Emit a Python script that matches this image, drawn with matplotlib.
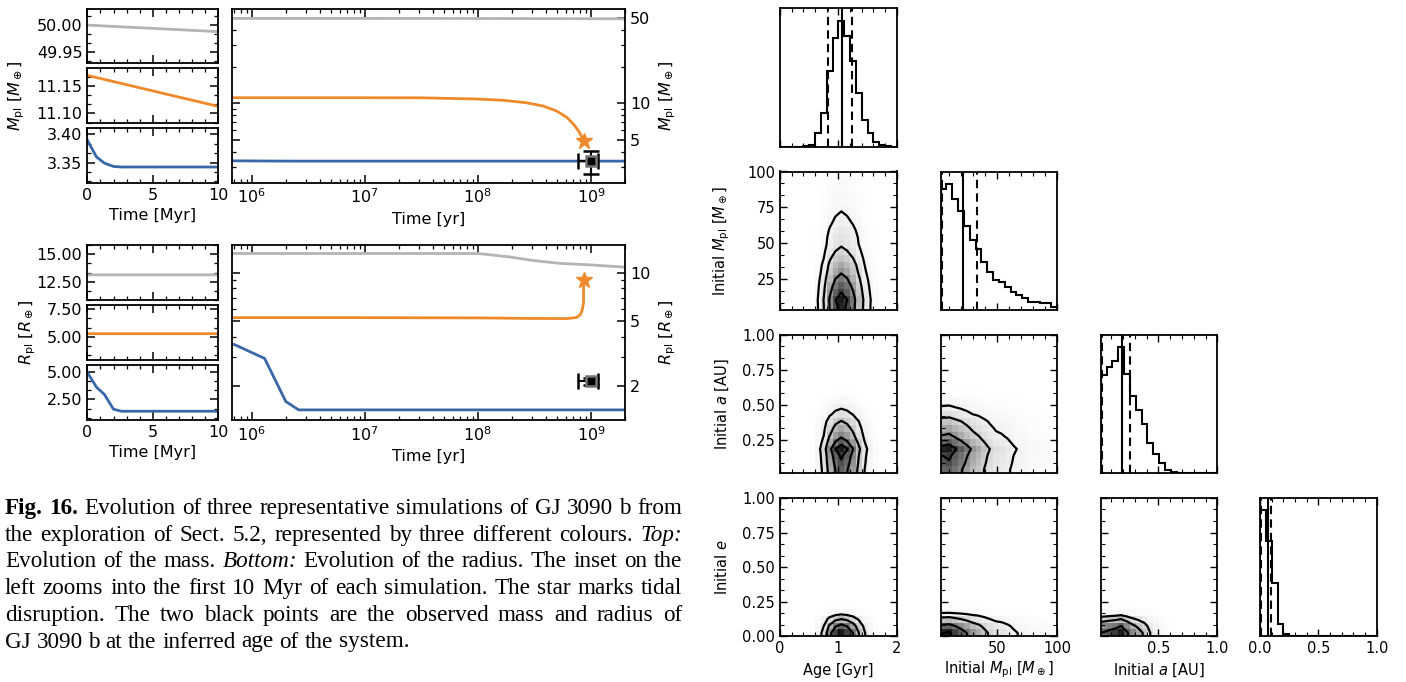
import numpy as np
import matplotlib
matplotlib.use("Agg")
import matplotlib.pyplot as plt
from matplotlib.ticker import (MultipleLocator, AutoMinorLocator, FormatStrFormatter,
                               FixedLocator, LogLocator, NullFormatter)

# ---------------------------------------------------------------- tracks
# Three representative simulations (time in yr, mass in M_earth, radius in R_earth)
t_gray = [0.0, 1.0e7, 1.0e8, 1.9e8, 3.0e8, 5.3e8, 1.0e9, 2.0e9]
m_gray = [50.0, 49.988, 49.9, 49.85, 49.8, 49.75, 49.7, 49.6]
r_gray = [13.12, 13.12, 13.12, 12.5, 11.9, 11.4, 11.15, 10.8]

t_orange = [0.0, 1.0e7, 3.07e7, 9.8e7, 1.68e8, 2.69e8, 3.78e8, 4.97e8, 6.1e8,
            6.98e8, 7.73e8, 8.27e8, 8.6e8]
m_orange = [11.17, 11.113, 11.1, 10.85, 10.58, 10.1, 9.5, 8.64, 7.67,
            6.76, 5.96, 5.32, 4.93]

t_orange_r = [0.0, 1.0e7, 1.0e8, 3.0e8, 6.1e8, 7.5e8, 8.1e8, 8.4e8, 8.6e8, 8.6e8]
r_orange = [5.27, 5.27, 5.25, 5.21, 5.2, 5.28, 5.53, 5.92, 6.6, 9.0]

t_blue = [0.0, 7.0e5, 1.3e6, 2.0e6, 2.6e6, 1.0e7, 2.0e9]
m_blue = [3.39, 3.36, 3.349, 3.343, 3.342, 3.342, 3.342]
r_blue = [4.95, 3.6, 2.95, 1.6, 1.42, 1.42, 1.42]

# Observed planet at the inferred age
age_obs, age_err = 1.0e9, (2.3e8, 1.6e8)
mass_obs, mass_err = 3.34, 0.72
rad_obs, rad_err = 2.13, 0.11

# ---------------------------------------------------------------- posterior
age_counts = [0, 0, 0, 0, 2, 5, 40, 100, 227, 325, 375, 330, 255, 160, 80, 40, 15, 5, 3, 0]
mpl_counts = [363, 377, 333, 295, 253, 210, 183, 145, 113, 90, 83, 70, 55, 45, 37, 25, 25, 20, 20, 10]
a_counts = [295, 320, 340, 380, 300, 233, 190, 148, 90, 57, 30, 10, 5, 0, 0, 0, 0, 0, 0, 0]
e_counts = [367, 278, 155, 35, 7, 0, 0, 0, 0, 0, 0, 0, 0, 0, 0, 0, 0, 0, 0, 0]

age_q = [0.83, 1.07, 1.24]
mpl_q = [4.2, 22.3, 33.5]
a_q = [0.02, 0.19, 0.255]
e_q = [0.008, 0.065, 0.095]

param_ranges = [(0.0, 2.0), (3.34, 100.0), (0.01, 1.0), (0.0, 1.0)]
param_labels = ["Age [Gyr]", r"Initial $M_{\rm pl}$ [$M_\oplus$]", r"Initial $a$ [AU]", r"Initial $e$"]

caption_lines = [
    "**Fig. 16.** Evolution of three representative simulations of GJ 3090 b from",
    "the exploration of Sect. 5.2, represented by three different colours. *Top:*",
    "Evolution of the mass. *Bottom:* Evolution of the radius. The inset on the",
    "left zooms into the first 10 Myr of each simulation. The star marks tidal",
    "disruption. The two black points are the observed mass and radius of",
    "GJ 3090 b at the inferred age of the system.",
]

# ---------------------------------------------------------------- style
GRAY, ORANGE, BLUE = "#b4b4b4", "#ee8a2b", "#3a67a7"
plt.rcParams.update({
    "font.family": "DejaVu Sans",
    "mathtext.fontset": "dejavusans",
    "axes.linewidth": 1.3,
    "xtick.direction": "in", "ytick.direction": "in",
    "xtick.top": True, "ytick.right": True,
})

W, H = 1406, 682
fig = plt.figure(figsize=(W / 100, H / 100), dpi=100)


def add_box(x0, y0, x1, y1):
    return fig.add_axes([x0 / W, 1 - y1 / H, (x1 - x0) / W, (y1 - y0) / H])


def ticks(ax, size=11.5, major=5.5, minor=3.2):
    ax.tick_params(which="both", direction="in", top=True, right=True, labelsize=size)
    ax.tick_params(which="major", length=major, width=1.1)
    ax.tick_params(which="minor", length=minor, width=0.9)


LW = 2.0

# ---------------------------------------------------------------- left: first 10 Myr
def small_panels(boxes, series, ylims, ystep):
    for k, (box, (t, y, col), lim) in enumerate(zip(boxes, series, ylims)):
        ax = add_box(*box)
        ax.plot(np.asarray(t) / 1e6, y, color=col, lw=LW)
        ax.set_xlim(0, 10)
        ax.set_ylim(*lim)
        ax.xaxis.set_major_locator(MultipleLocator(5))
        ax.xaxis.set_minor_locator(AutoMinorLocator(5))
        ax.yaxis.set_major_locator(MultipleLocator(ystep))
        ax.yaxis.set_minor_locator(AutoMinorLocator(3))
        ax.yaxis.set_major_formatter(FormatStrFormatter("%.2f"))
        ticks(ax)
        if k < 2:
            ax.tick_params(labelbottom=False)
        else:
            ax.set_xlabel("Time [Myr]", fontsize=11.5, labelpad=4)


small_panels(
    [(87.3, 9.3, 218.3, 63.3), (87.3, 68.3, 218.3, 123.3), (87.3, 128.3, 218.3, 182.7)],
    [(t_gray, m_gray, GRAY), (t_orange, m_orange, ORANGE), (t_blue, m_blue, BLUE)],
    [(49.930, 50.029), (11.082, 11.183), (3.314, 3.411)], 0.05)
small_panels(
    [(87.3, 245, 218.3, 300), (87.3, 305, 218.3, 360), (87.3, 365, 218.3, 420)],
    [(t_gray, r_gray, GRAY), (t_orange_r, r_orange, ORANGE), (t_blue, r_blue, BLUE)],
    [(10.82, 15.85), (2.87, 7.89), (0.625, 5.61)], 2.5)

fig.text(17 / W, 1 - 96 / H, r"$M_{\rm pl}$ [$M_\oplus$]", rotation=90,
         ha="center", va="center", fontsize=11.5)
fig.text(28 / W, 1 - 332 / H, r"$R_{\rm pl}$ [$R_\oplus$]", rotation=90,
         ha="center", va="center", fontsize=11.5)

# ---------------------------------------------------------------- right: full evolution
def big_panel(box, tracks, ylim, yticks, obs, ylabel):
    ax = add_box(*box)
    for t, y, col in tracks:
        ax.plot(t, y, color=col, lw=LW)
    ax.set_xscale("log")
    ax.set_yscale("log")
    ax.set_xlim(6.65e5, 2.0e9)
    ax.set_ylim(*ylim)
    ax.yaxis.set_major_locator(FixedLocator(yticks))
    ax.yaxis.set_major_formatter(FormatStrFormatter("%g"))
    ax.yaxis.set_minor_locator(LogLocator(base=10, subs=np.arange(2, 10)))
    ax.yaxis.set_minor_formatter(NullFormatter())
    ax.xaxis.set_major_locator(LogLocator(base=10, numticks=20))
    ax.xaxis.set_minor_locator(LogLocator(base=10, subs=np.arange(2, 10), numticks=20))
    ax.xaxis.set_minor_formatter(NullFormatter())
    ticks(ax)
    ax.tick_params(axis="y", labelleft=False, labelright=True)
    ax.set_xlabel("Time [yr]", fontsize=11.5, labelpad=4)
    ax.yaxis.set_label_position("right")
    ax.set_ylabel(ylabel, fontsize=11.5, labelpad=5)
    # tidal disruption
    t_o, y_o = tracks[1][0], tracks[1][1]
    ax.plot(t_o[-1], y_o[-1], marker="*", ms=12, color=ORANGE, mec=ORANGE, zorder=4)
    # observed point
    val, err = obs
    ax.errorbar([age_obs], [val], xerr=[[age_err[0]], [age_err[1]]], yerr=[[err], [err]],
                fmt="s", color="k", mfc="k", mec="0.45", ms=7.5, mew=1.8,
                capsize=6, elinewidth=1.5, capthick=1.5, zorder=5)


big_panel((231.7, 9.3, 625, 182.7),
          [(t_gray, m_gray, GRAY), (t_orange, m_orange, ORANGE), (t_blue, m_blue, BLUE)],
          (2.22, 59.4), [5, 10, 50], (mass_obs, mass_err), r"$M_{\rm pl}$ [$M_\oplus$]")
big_panel((231.7, 245, 625, 420),
          [(t_gray, r_gray, GRAY), (t_orange_r, r_orange, ORANGE), (t_blue, r_blue, BLUE)],
          (1.23, 14.8), [2, 5, 10], (rad_obs, rad_err), r"$R_{\rm pl}$ [$R_\oplus$]")

# ---------------------------------------------------------------- corner plot
hists = [age_counts, mpl_counts, a_counts, e_counts]
quants = [age_q, mpl_q, a_q, e_q]
x_major = [1.0, 50.0, 0.5, 0.5]
y_fmt = [None, "%g", "%.2f", "%.2f"]
y_major = [None, 25.0, 0.25, 0.25]
col_x0 = [780.0, 940.5, 1100.7, 1260.0]
row_y0 = [8.3, 171.5, 334.7, 497.9]
CW, CH = 116.7, 138.5
sigma_levels = 1.0 - np.exp(-0.5 * np.arange(0.5, 2.1, 0.5) ** 2)


def density_levels(Hm):
    flat = np.sort(Hm.ravel())[::-1]
    cum = np.cumsum(flat)
    cum /= cum[-1]
    V = np.empty(len(sigma_levels))
    for i, v0 in enumerate(sigma_levels):
        sel = flat[cum <= v0]
        V[i] = sel[-1] if len(sel) else flat[0]
    V.sort()
    while np.any(np.diff(V) == 0):
        j = np.where(np.diff(V) == 0)[0][0]
        V[j] *= 1 - 1e-4
    return V


def padded(Hm, xe, ye):
    xc = 0.5 * (xe[1:] + xe[:-1])
    yc = 0.5 * (ye[1:] + ye[:-1])
    H2 = Hm.min() + np.zeros((Hm.shape[0] + 4, Hm.shape[1] + 4))
    H2[2:-2, 2:-2] = Hm
    H2[2:-2, 1] = Hm[:, 0]
    H2[2:-2, -2] = Hm[:, -1]
    H2[1, 2:-2] = Hm[0]
    H2[-2, 2:-2] = Hm[-1]
    H2[1, 1] = Hm[0, 0]
    H2[1, -2] = Hm[0, -1]
    H2[-2, 1] = Hm[-1, 0]
    H2[-2, -2] = Hm[-1, -1]
    dx, dy = np.diff(xc[:2])[0], np.diff(yc[:2])[0]
    X2 = np.concatenate([xc[0] + np.array([-2, -1]) * dx, xc, xc[-1] + np.array([1, 2]) * dx])
    Y2 = np.concatenate([yc[0] + np.array([-2, -1]) * dy, yc, yc[-1] + np.array([1, 2]) * dy])
    return X2, Y2, H2


for r in range(4):
    for c in range(r + 1):
        x0, y0 = col_x0[c], row_y0[r]
        ax = add_box(x0, y0, x0 + CW, y0 + CH)
        lo, hi = param_ranges[c]
        xe = np.linspace(lo, hi, 21)
        if r == c:
            cnt = np.asarray(hists[c], float)
            ax.stairs(cnt, xe, color="k", lw=1.5)
            ax.set_ylim(0, 1.1 * cnt.max())
            q = quants[c]
            ax.axvline(q[0], color="k", ls="--", lw=1.5, dashes=(4, 2.5))
            ax.axvline(q[1], color="k", lw=1.5)
            ax.axvline(q[2], color="k", ls="--", lw=1.5, dashes=(4, 2.5))
            ax.set_yticks([])
        else:
            ylo, yhi = param_ranges[r]
            ye = np.linspace(ylo, yhi, 21)
            Hm = np.outer(np.asarray(hists[r], float), np.asarray(hists[c], float))
            Hm /= Hm.sum()
            ax.pcolormesh(xe, ye, Hm, cmap="Greys", vmin=0, vmax=Hm.max() * 1.1,
                          shading="flat", rasterized=True)
            X2, Y2, H2 = padded(Hm, xe, ye)
            ax.contour(X2, Y2, H2, levels=density_levels(Hm), colors="k", linewidths=1.6)
            ax.set_ylim(ylo, yhi)
            ax.yaxis.set_major_locator(MultipleLocator(y_major[r]))
            ax.yaxis.set_minor_locator(AutoMinorLocator(3))
            ax.yaxis.set_major_formatter(FormatStrFormatter(y_fmt[r]))
        ax.set_xlim(lo, hi)
        ax.xaxis.set_major_locator(MultipleLocator(x_major[c]))
        ax.xaxis.set_minor_locator(AutoMinorLocator(5))
        if c >= 2:
            ax.xaxis.set_major_formatter(FormatStrFormatter("%.1f"))
        ax.tick_params(which="both", direction="in", top=True, labelsize=10.5)
        ax.tick_params(which="major", length=5, width=1.0)
        ax.tick_params(which="minor", length=3, width=0.8)
        if r == c:
            ax.tick_params(axis="y", which="both", left=False, right=False)
        if r < 3:
            ax.tick_params(labelbottom=False)
        elif c < 3:
            fig.text((x0 + CW / 2) / W, 1 - 670 / H, param_labels[c],
                     ha="center", va="center", fontsize=10.5)
        if c > 0:
            ax.tick_params(labelleft=False)
        elif r > 0:
            fig.text(722 / W, 1 - (y0 + CH / 2) / H, param_labels[r], rotation=90,
                     ha="center", va="center", fontsize=10.5)

# ---------------------------------------------------------------- caption (justified)
renderer = fig.canvas.get_renderer()
CAP_X0, CAP_X1 = 5.0, 682.0
CAP_Y0, CAP_DY = 514.0, 26.7


def parse(line):
    words, bold, ital = [], False, False
    for tok in line.split(" "):
        b0, i0 = bold, ital
        if tok.startswith("**"):
            bold = b0 = True
            tok = tok[2:]
        elif tok.startswith("*"):
            ital = i0 = True
            tok = tok[1:]
        if tok.endswith("**"):
            tok = tok[:-2]
            bold = False
        elif tok.endswith("*"):
            tok = tok[:-1]
            ital = False
        words.append((tok, b0, i0))
    return words


def make_word(s, b, i, size):
    return fig.text(0, 0, s, fontsize=size, family="Liberation Serif",
                    weight="bold" if b else "normal", style="italic" if i else "normal",
                    va="baseline", ha="left")


def word_widths(words, size):
    objs = [make_word(s, b, i, size) for s, b, i in words]
    ws = [o.get_window_extent(renderer).width for o in objs]
    return objs, ws


def space_width(size):
    a = make_word("x x", False, False, size)
    b = make_word("xx", False, False, size)
    w = a.get_window_extent(renderer).width - b.get_window_extent(renderer).width
    a.remove()
    b.remove()
    return w


parsed = [parse(line) for line in caption_lines]

# choose the size so that the tightest justified line fills the column with plain spaces
ref_size = 15.0
sp = space_width(ref_size)
natural = []
for words in parsed[:-1]:
    objs, ws = word_widths(words, ref_size)
    natural.append(sum(ws) + sp * (len(ws) - 1))
    for o in objs:
        o.remove()
cap_size = ref_size * (CAP_X1 - CAP_X0) / max(natural) * 0.995
sp = space_width(cap_size)

for li, words in enumerate(parsed):
    objs, ws = word_widths(words, cap_size)
    if li < len(parsed) - 1 and len(objs) > 1:
        gap = (CAP_X1 - CAP_X0 - sum(ws)) / (len(objs) - 1)
    else:
        gap = sp
    x = CAP_X0
    yb = CAP_Y0 + li * CAP_DY
    for o, w in zip(objs, ws):
        o.set_position((x / W, 1 - yb / H))
        x += w + gap

fig.savefig("out.png", dpi=100)
